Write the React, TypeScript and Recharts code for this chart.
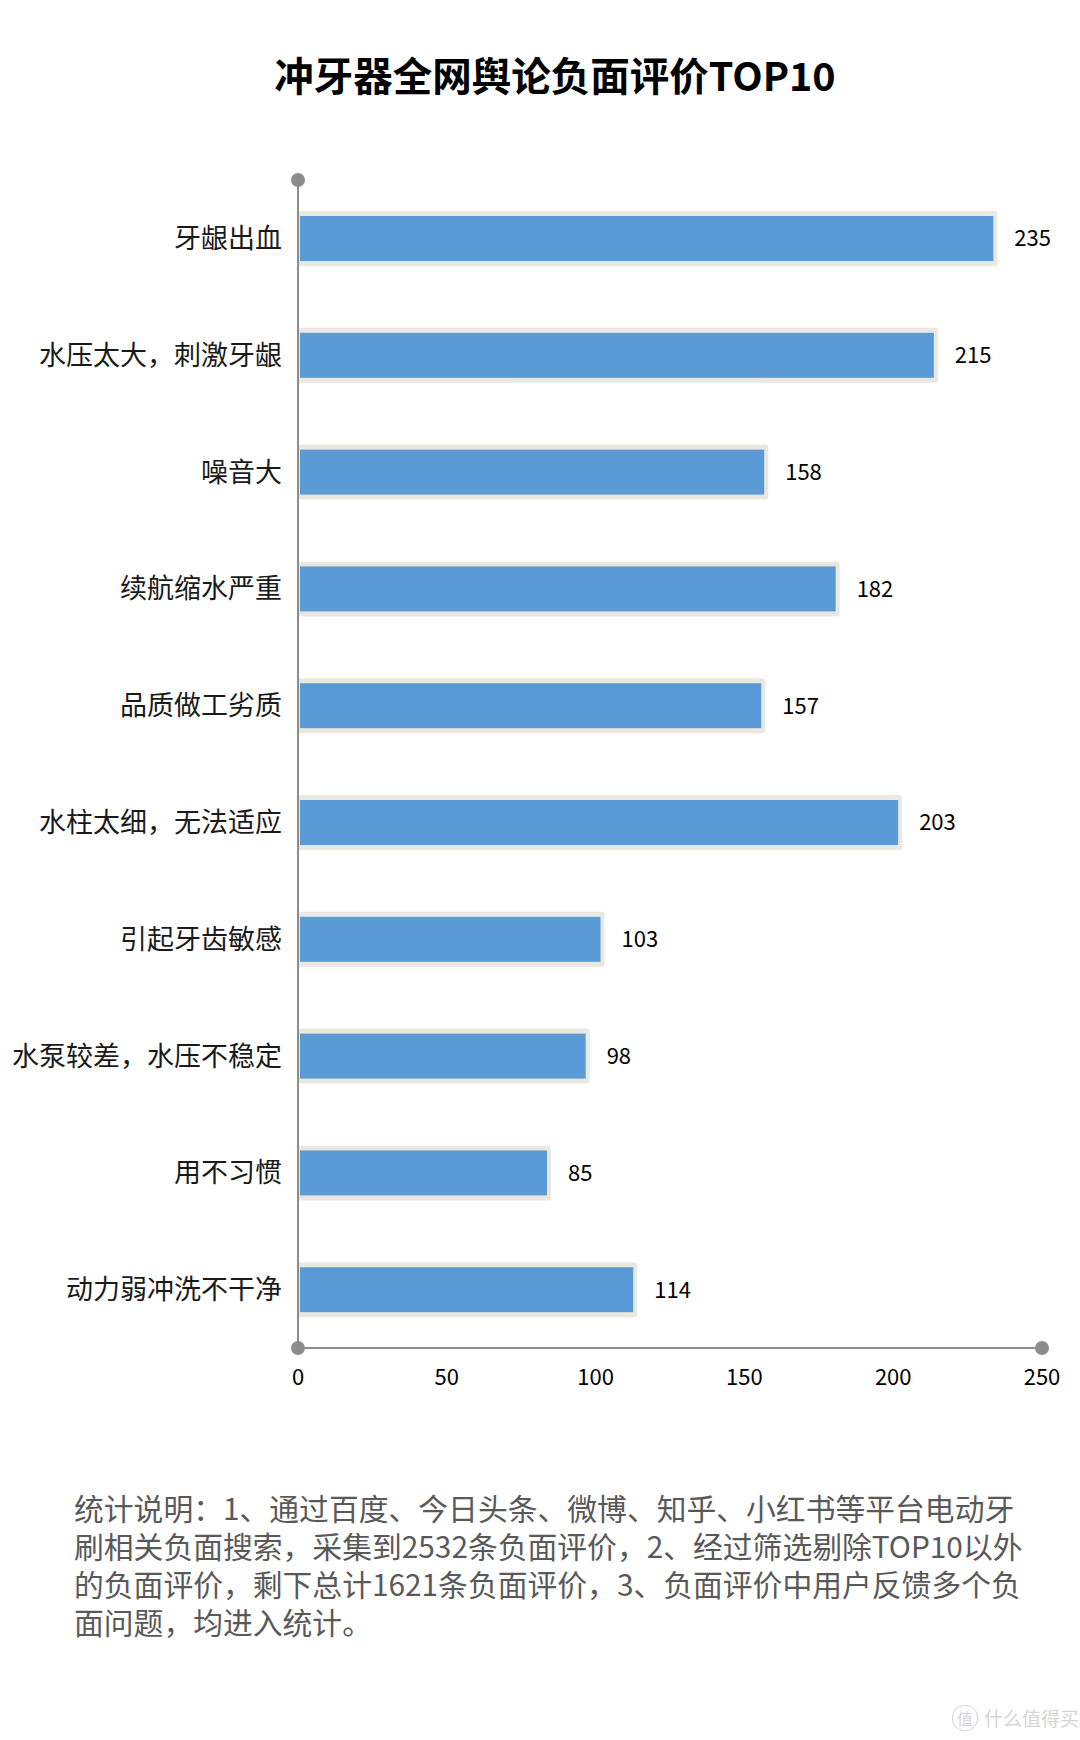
import { BarChart, Bar, XAxis, YAxis, LabelList, usePlotArea } from 'recharts';

const categories = [
    '牙龈出血',
    '水压太大，刺激牙龈',
    '噪音大',
    '续航缩水严重',
    '品质做工劣质',
    '水柱太细，无法适应',
    '引起牙齿敏感',
    '水泵较差，水压不稳定',
    '用不习惯',
    '动力弱冲洗不干净',
];
const counts = [235, 215, 158, 182, 157, 203, 103, 98, 85, 114];
const xTicks = [0, 50, 100, 150, 200, 250];

const noteLines = [
    '统计说明：1、通过百度、今日头条、微博、知乎、小红书等平台电动牙',
    '刷相关负面搜索，采集到2532条负面评价，2、经过筛选剔除TOP10以外',
    '的负面评价，剩下总计1621条负面评价，3、负面评价中用户反馈多个负',
    '面问题，均进入统计。',
];

const data = categories.map((name, i) => ({ name, value: counts[i] }));

const FONT = '"Noto Sans CJK SC", "Noto Sans", sans-serif';

// bar with light frame and blue fill
const FramedBar = (props: any) => {
    const { x, y, width, height } = props;
    if (!width || width <= 0) return null;
    return (
        <g>
            <rect x={x} y={y} width={width} height={height} rx={3} fill="#ebe8e0" />
            <rect x={x + 2} y={y + 5} width={Math.max(0, width - 6)} height={height - 10} fill="#5b9bd5" />
        </g>
    );
};

// end dots on the axes
const AxisDots = () => {
    const area = usePlotArea();
    if (!area) return null;
    const { x, y, width, height } = area;
    return (
        <g fill="#8c8c8c">
            <circle cx={x} cy={y} r={7} />
            <circle cx={x} cy={y + height} r={7} />
            <circle cx={x + width} cy={y + height} r={7} />
        </g>
    );
};

export default function App() {
    return (
        <div style={{ position: 'absolute', left: 0, top: 0, width: 1080, height: 1740, background: '#fff', fontFamily: FONT }}>
            <div
                style={{
                    position: 'absolute',
                    top: 50,
                    left: 0,
                    width: 1110,
                    textAlign: 'center',
                    fontSize: 39.5,
                    fontWeight: 700,
                    lineHeight: '48px',
                    color: '#000',
                }}
            >
                冲牙器全网舆论负面评价TOP10
            </div>

            <div style={{ position: 'absolute', top: 0, left: 0 }}>
                <BarChart
                    width={1080}
                    height={1420}
                    data={data}
                    layout="vertical"
                    margin={{ top: 180, right: 38, left: 0, bottom: 22 }}
                    barSize={55}
                >
                    <XAxis
                        type="number"
                        domain={[0, 250]}
                        ticks={xTicks}
                        interval={0}
                        height={50}
                        axisLine={{ stroke: '#8c8c8c', strokeWidth: 2 }}
                        tickLine={false}
                        tickMargin={15}
                        tick={{ fill: '#000', fontSize: 22, fontFamily: FONT }}
                    />
                    <YAxis
                        type="category"
                        dataKey="name"
                        width={298}
                        axisLine={{ stroke: '#8c8c8c', strokeWidth: 2 }}
                        tickLine={false}
                        tickSize={0}
                        tickMargin={16}
                        interval={0}
                        tick={{ fill: '#1a1a1a', fontSize: 27, fontFamily: FONT }}
                    />
                    <Bar dataKey="value" shape={<FramedBar />} isAnimationActive={false}>
                        <LabelList
                            dataKey="value"
                            position="right"
                            offset={17}
                            fill="#000"
                            fontSize={22}
                            fontFamily={FONT}
                        />
                    </Bar>
                    <AxisDots />
                </BarChart>
            </div>

            <div
                style={{
                    position: 'absolute',
                    top: 1488,
                    left: 74,
                    fontSize: 29.8,
                    lineHeight: '38px',
                    color: '#595959',
                    whiteSpace: 'nowrap',
                }}
            >
                {noteLines.map((line) => (
                    <div key={line}>{line}</div>
                ))}
            </div>

            <div
                style={{
                    position: 'absolute',
                    top: 1704,
                    left: 952,
                    fontSize: 19,
                    color: '#d4d4d4',
                    display: 'flex',
                    alignItems: 'center',
                    gap: 6,
                }}
            >
                <span
                    style={{
                        display: 'inline-block',
                        width: 24,
                        height: 24,
                        borderRadius: 12,
                        border: '1px solid #d4d4d4',
                        textAlign: 'center',
                        lineHeight: '24px',
                        fontSize: 16,
                    }}
                >
                    值
                </span>
                <span>什么值得买</span>
            </div>
        </div>
    );
}
